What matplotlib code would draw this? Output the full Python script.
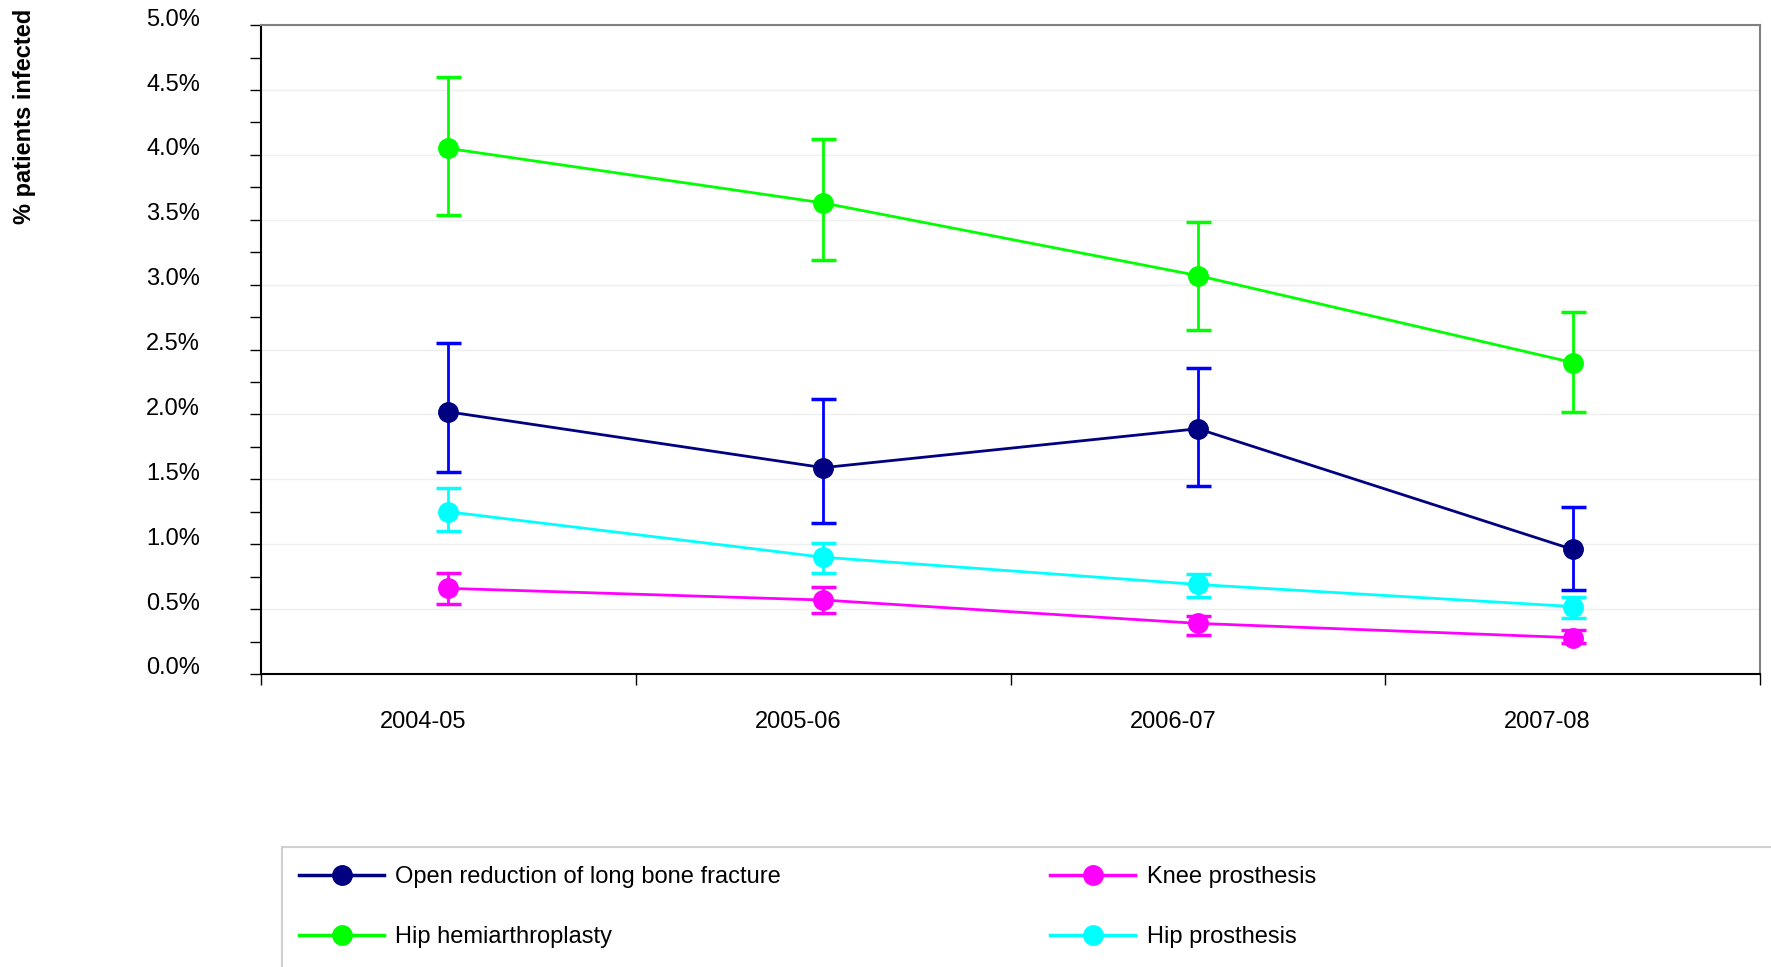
import matplotlib
matplotlib.use("Agg")
import matplotlib.pyplot as plt
import matplotlib.transforms as mtransforms
from matplotlib.lines import Line2D
from matplotlib.patches import Rectangle
from matplotlib.ticker import FuncFormatter, MultipleLocator, FixedLocator

plt.rcParams['font.family'] = ['Liberation Sans', 'DejaVu Sans']

years = ["2004-05", "2005-06", "2006-07", "2007-08"]

# % patients infected, with lower / upper confidence limits
open_reduction = [2.02, 1.59, 1.89, 0.96]
open_reduction_lo = [1.56, 1.16, 1.45, 0.65]
open_reduction_hi = [2.55, 2.12, 2.36, 1.29]

hip_hemi = [4.05, 3.63, 3.07, 2.40]
hip_hemi_lo = [3.54, 3.19, 2.65, 2.02]
hip_hemi_hi = [4.60, 4.12, 3.48, 2.79]

knee = [0.66, 0.57, 0.39, 0.28]
knee_lo = [0.54, 0.47, 0.30, 0.24]
knee_hi = [0.78, 0.67, 0.45, 0.34]

hip_pros = [1.25, 0.90, 0.69, 0.52]
hip_pros_lo = [1.10, 0.78, 0.59, 0.43]
hip_pros_hi = [1.43, 1.01, 0.77, 0.59]

series = [
    ("Open reduction of long bone fracture", open_reduction, open_reduction_lo, open_reduction_hi, "#000080", "#0000ff"),
    ("Hip hemiarthroplasty", hip_hemi, hip_hemi_lo, hip_hemi_hi, "#00ff00", "#00ff00"),
    ("Knee prosthesis", knee, knee_lo, knee_hi, "#ff00ff", "#ff00ff"),
    ("Hip prosthesis", hip_pros, hip_pros_lo, hip_pros_hi, "#00ffff", "#00ffff"),
]

fig = plt.figure(figsize=(17.71, 9.67), dpi=100)
ax = fig.add_axes([0.1474, 0.303, 0.8464, 0.671])

x = list(range(len(years)))
handles = []
for name, y, lo, hi, c, ec in series:
    err = [[v - l for v, l in zip(y, lo)], [h - v for v, h in zip(y, hi)]]
    ax.errorbar(x, y, yerr=err, color=c, ecolor=ec, elinewidth=2, capsize=9, capthick=2.5,
                lw=2, marker='o', markersize=14, zorder=3)
    handles.append(Line2D([], [], color=c, lw=2.5, marker='o', markersize=14))

ax.set_xlim(-0.5, 3.5)
ax.set_ylim(0, 5)

ax.yaxis.set_major_locator(MultipleLocator(0.5))
ax.yaxis.set_minor_locator(MultipleLocator(0.25))
ax.yaxis.set_major_formatter(FuncFormatter(lambda v, p: "%.1f%%" % v))
ax.tick_params(axis='y', which='both', direction='out', length=8, width=1, labelsize=17, pad=36)
ax.grid(axis='y', which='major', color='#efefef', lw=1)
ax.set_axisbelow(True)

ax.xaxis.set_major_locator(FixedLocator(x))
ax.set_xticklabels(years)
ax.xaxis.set_minor_locator(FixedLocator([-0.5, 0.5, 1.5, 2.5, 3.5]))
ax.tick_params(axis='x', which='major', length=0, labelsize=17, pad=27)
ax.tick_params(axis='x', which='minor', direction='out', length=8, width=1)

# Excel-style label offsets
dy = mtransforms.ScaledTranslation(0, 8 / 100, fig.dpi_scale_trans)
for lab in ax.get_yticklabels():
    lab.set_transform(lab.get_transform() + dy)
dx = mtransforms.ScaledTranslation(-25 / 100, 0, fig.dpi_scale_trans)
for lab in ax.get_xticklabels():
    lab.set_transform(lab.get_transform() + dx)

for s in ['left', 'bottom']:
    ax.spines[s].set_color('black')
    ax.spines[s].set_linewidth(1.5)
for s in ['top', 'right']:
    ax.spines[s].set_color('#808080')
    ax.spines[s].set_linewidth(1.5)

fig.text(25 / 1771, 1 - 9 / 967, "% patients infected", rotation=90, ha='center', va='top',
         fontsize=17, fontweight='bold')

# legend box (runs off the figure like the original)
fig.add_artist(Rectangle((282 / 1771, -0.1), 1.0, 0.1 + 1 - 847 / 967, transform=fig.transFigure,
                         fill=False, edgecolor='#d0d0d0', lw=1.5))
fig.legend(handles, [s[0] for s in series], ncol=2, loc='upper left',
           bbox_to_anchor=(299 / 1771, 1 - 866 / 967), frameon=False, fontsize=17,
           handlelength=3.6, handletextpad=0.48, labelspacing=1.6, columnspacing=11.4,
           borderpad=0, borderaxespad=0)

fig.savefig("out.png", dpi=100)
